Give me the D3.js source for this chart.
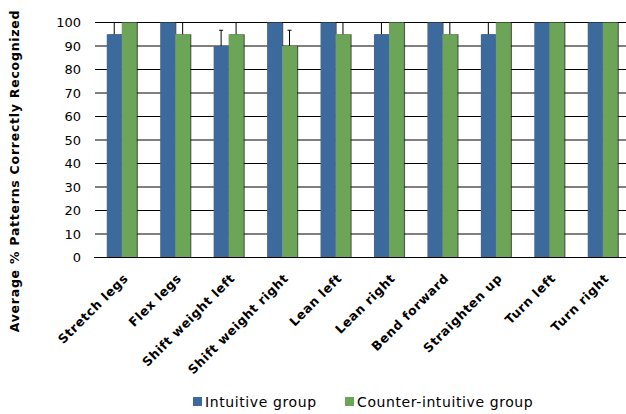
<!DOCTYPE html>
<html>
<head>
    <meta charset="utf-8">
    <script src="https://d3js.org/d3.v7.min.js"></script>
    <style>
      body { margin: 0; background: #fff; }
      text { font-family: Verdana, "DejaVu Sans", sans-serif; fill: #000; }
    </style>
</head>
<body>
<script>
"use strict";

// Chart data.
var categories = ["Stretch legs", "Flex legs", "Shift weight left", "Shift weight right",
  "Lean left", "Lean right", "Bend forward", "Straighten up", "Turn left", "Turn right"];
var seriesNames = ["Intuitive group", "Counter-intuitive group"];
var intuitive = [95, 100, 90, 100, 100, 95, 100, 95, 100, 100];
var counterIntuitive = [100, 95, 95, 90, 95, 100, 95, 100, 100, 100];
// upper error bars only
var intuitiveErr = [5, 0, 6.7, 0, 0, 5, 0, 5, 0, 0];
var counterErr = [0, 5, 5, 6.7, 5, 0, 5, 0, 0, 0];
var yTicks = [0, 10, 20, 30, 40, 50, 60, 70, 80, 90, 100];

var colors = ["#3d6a9c", "#6ca458"];

var width = 626, height = 414;
var plotLeft = 95, plotRight = 629.4, plotTop = 22.5, plotBottom = 257.5;

var svg = d3.select("body").append("svg")
    .attr("width", width)
    .attr("height", height);

var x0 = d3.scaleBand().domain(categories).range([plotLeft, plotRight]);
var x1 = d3.scaleBand().domain(seriesNames)
    .range([x0.bandwidth() * 0.22, x0.bandwidth() * 0.78]);
var y = d3.scaleLinear().domain([0, 100]).range([plotBottom, plotTop]);

// horizontal gridlines
svg.append("g").selectAll("line")
    .data(yTicks)
  .enter().append("line")
    .attr("x1", plotLeft)
    .attr("x2", width)
    .attr("y1", function(d) { return y(d); })
    .attr("y2", function(d) { return y(d); })
    .attr("stroke", "#000")
    .attr("stroke-width", 1);

// y tick labels
svg.append("g").selectAll("text")
    .data(yTicks)
  .enter().append("text")
    .attr("x", 81)
    .attr("y", function(d) { return y(d); })
    .attr("dy", "0.36em")
    .attr("text-anchor", "end")
    .style("font-size", "13px")
    .text(function(d) { return d; });

// y axis title
svg.append("text")
    .attr("transform", "translate(19,171) rotate(-90)")
    .attr("text-anchor", "middle")
    .style("font-size", "12.5px")
    .style("font-weight", "bold")
    .style("letter-spacing", "0.75px")
    .text("Average % Patterns Correctly Recognized");

var rows = categories.map(function(c, i) {
  return [
    { cat: c, s: seriesNames[0], v: intuitive[i], e: intuitiveErr[i], color: colors[0] },
    { cat: c, s: seriesNames[1], v: counterIntuitive[i], e: counterErr[i], color: colors[1] }
  ];
});

var groups = svg.append("g").selectAll("g")
    .data(rows)
  .enter().append("g")
    .attr("transform", function(d) { return "translate(" + x0(d[0].cat) + ",0)"; });

// soft shadow on the right of each bar
groups.selectAll("rect.shadow")
    .data(function(d) { return d; })
  .enter().append("rect")
    .attr("class", "shadow")
    .attr("x", function(d) { return x1(d.s) + 1.2; })
    .attr("y", function(d) { return y(d.v); })
    .attr("width", x1.bandwidth())
    .attr("height", function(d) { return plotBottom - y(d.v); })
    .attr("fill", "#222")
    .attr("opacity", 0.75);

groups.selectAll("rect.bar")
    .data(function(d) { return d; })
  .enter().append("rect")
    .attr("class", "bar")
    .attr("x", function(d) { return x1(d.s); })
    .attr("y", function(d) { return y(d.v); })
    .attr("width", x1.bandwidth())
    .attr("height", function(d) { return plotBottom - y(d.v); })
    .attr("fill", function(d) { return d.color; });

// error bars (plus direction), clipped at the top of the plot
var errs = groups.selectAll("g.err")
    .data(function(d) { return d.filter(function(r) { return r.e > 0; }); })
  .enter().append("g")
    .attr("class", "err");
errs.append("line")
    .attr("x1", function(d) { return x1(d.s) + x1.bandwidth() / 2; })
    .attr("x2", function(d) { return x1(d.s) + x1.bandwidth() / 2; })
    .attr("y1", function(d) { return y(d.v); })
    .attr("y2", function(d) { return Math.max(plotTop, y(d.v + d.e)); })
    .attr("stroke", "#000");
errs.append("line")
    .attr("x1", function(d) { return x1(d.s) + x1.bandwidth() / 2 - 2; })
    .attr("x2", function(d) { return x1(d.s) + x1.bandwidth() / 2 + 2; })
    .attr("y1", function(d) { return Math.max(plotTop, y(d.v + d.e)); })
    .attr("y2", function(d) { return Math.max(plotTop, y(d.v + d.e)); })
    .attr("stroke", "#000");

// x axis line
svg.append("line")
    .attr("x1", plotLeft - 1).attr("x2", width)
    .attr("y1", plotBottom).attr("y2", plotBottom)
    .attr("stroke", "#000");

// rotated category labels
svg.append("g").selectAll("text")
    .data(categories)
  .enter().append("text")
    .attr("transform", function(d) {
      return "translate(" + (x0(d) + x0.bandwidth() / 2 + 4) + ",276) rotate(-45)";
    })
    .attr("dy", "0.35em")
    .attr("text-anchor", "end")
    .style("font-size", "12.5px")
    .style("font-weight", "bold")
    .style("letter-spacing", "0.6px")
    .text(function(d) { return d; });

// legend
var legendX = [193, 345];
var legend = svg.append("g").selectAll("g")
    .data(seriesNames)
  .enter().append("g")
    .attr("transform", function(d, i) { return "translate(" + legendX[i] + ",397)"; });
legend.append("rect")
    .attr("width", 9)
    .attr("height", 9)
    .attr("fill", function(d, i) { return colors[i]; });
legend.append("text")
    .attr("x", 12)
    .attr("y", 4.5)
    .attr("dy", "0.36em")
    .style("font-size", "14px")
    .style("letter-spacing", "0.6px")
    .text(function(d) { return d; });
</script>
</body>
</html>
